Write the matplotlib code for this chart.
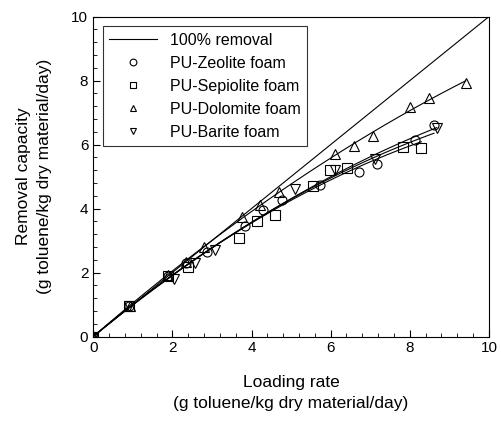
import numpy as np
import matplotlib.pyplot as plt
from matplotlib.ticker import MultipleLocator

plt.rcParams['font.family'] = ['Liberation Sans', 'DejaVu Sans']

# loading rate (x) and removal capacity (y), g toluene/kg dry material/day
zeo_x = [0, 0.91, 1.90, 2.35, 2.87, 3.83, 4.30, 4.77, 5.74, 6.71, 7.16, 8.14, 8.61]
zeo_y = [0, 0.96, 1.90, 2.30, 2.63, 3.44, 3.94, 4.26, 4.73, 5.13, 5.40, 6.14, 6.61]

sep_x = [0, 0.91, 1.89, 2.39, 3.69, 4.14, 4.60, 5.55, 5.98, 6.41, 7.82, 8.29]
sep_y = [0, 0.96, 1.88, 2.17, 3.09, 3.62, 3.80, 4.71, 5.19, 5.28, 5.91, 5.88]

dol_x = [0, 0.92, 1.90, 2.35, 2.81, 3.77, 4.22, 4.70, 6.12, 6.59, 7.06, 8.00, 8.48, 9.41]
dol_y = [0, 0.95, 1.93, 2.34, 2.81, 3.75, 4.12, 4.53, 5.71, 5.97, 6.27, 7.19, 7.45, 7.92]

bar_x = [0, 0.91, 2.05, 2.56, 3.07, 5.11, 6.11, 7.13, 8.68]
bar_y = [0, 0.96, 1.80, 2.30, 2.72, 4.62, 5.21, 5.54, 6.51]

series = [
    (zeo_x, zeo_y, 'o', 'PU-Zeolite foam'),
    (sep_x, sep_y, 's', 'PU-Sepiolite foam'),
    (dol_x, dol_y, '^', 'PU-Dolomite foam'),
    (bar_x, bar_y, 'v', 'PU-Barite foam'),
]


def main():
    fig = plt.figure(figsize=(5.01, 4.26), dpi=100)
    ax = fig.add_axes([0.186, 0.21, 0.79, 0.751])

    ax.plot([0, 10], [0, 10], color='black', lw=0.8, label='100% removal')

    for x, y, m, name in series:
        x = np.array(x)
        y = np.array(y)
        # smooth fit through the origin: y = a*x + b*x^2
        A = np.column_stack([x, x ** 2])
        (a, b), *_ = np.linalg.lstsq(A, y, rcond=None)
        xf = np.linspace(0, x.max(), 100)
        ax.plot(xf, a * xf + b * xf ** 2, color='black', lw=0.8)
        ax.plot(x, y, m, mfc='none', mec='black', mew=0.8, ms=6.5,
                linestyle='none', label=name)

    ax.set_xlim(0, 10)
    ax.set_ylim(0, 10)
    ax.xaxis.set_major_locator(MultipleLocator(2))
    ax.yaxis.set_major_locator(MultipleLocator(2))
    ax.xaxis.set_minor_locator(MultipleLocator(0.4))
    ax.yaxis.set_minor_locator(MultipleLocator(0.4))
    ax.tick_params(which='both', direction='in', top=False, right=False,
                   labelsize=11)
    ax.tick_params(which='major', length=5)
    ax.tick_params(which='minor', length=3)

    ax.set_xlabel('Loading rate\n(g toluene/kg dry material/day)', fontsize=12.5,
                  labelpad=14, linespacing=1.5)
    ax.set_ylabel('Removal capacity\n(g toluene/kg dry material/day)', fontsize=12.5,
                  labelpad=14, linespacing=1.5)

    leg = ax.legend(loc='upper left', fontsize=11.5, frameon=True, fancybox=False,
                    edgecolor='black', handlelength=3, borderaxespad=0.6,
                    markerscale=0.75)
    leg.get_frame().set_linewidth(0.8)

    fig.savefig('out.png', dpi=100)


if __name__ == '__main__':
    main()
